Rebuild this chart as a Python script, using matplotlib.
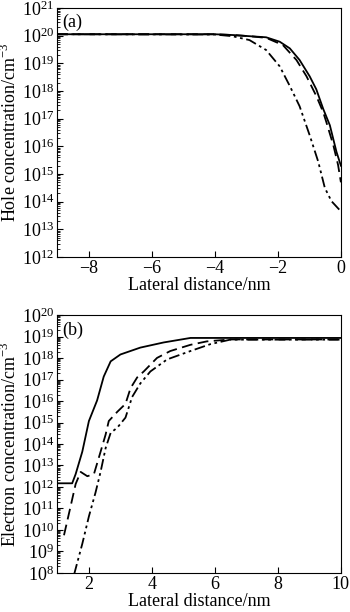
import numpy as np
import matplotlib
matplotlib.use("Agg")
import matplotlib.pyplot as plt
from matplotlib.ticker import LogLocator, NullFormatter

plt.rcParams['font.family'] = ['Liberation Serif', 'DejaVu Serif']
plt.rcParams['mathtext.fontset'] = 'custom'
plt.rcParams['mathtext.rm'] = 'Liberation Serif'

# (a) hole concentration, log10 values
xa_solid = [-9, -4, -3.4, -2.9, -2.37, -1.94, -1.62, -1.31, -0.99, -0.78, -0.56, -0.35, -0.14, 0.0]
ya_solid = [20.05, 20.05, 20.02, 19.98, 19.94, 19.78, 19.54, 19.12, 18.53, 18.06, 17.35, 16.76, 15.8, 15.3]
xa_dash = [-9, -4, -3.4, -2.9, -2.37, -1.84, -1.41, -1.09, -0.78, -0.56, -0.46, -0.24, -0.09, 0.0]
ya_dash = [20.05, 20.05, 20.02, 19.98, 19.92, 19.66, 19.12, 18.53, 17.82, 17.23, 16.87, 16.04, 15.33, 14.7]
xa_dd = [-9, -4, -3.44, -2.9, -2.37, -1.94, -1.62, -1.31, -0.99, -0.72, -0.51, -0.30, 0.0]
ya_dd = [20.05, 20.04, 19.98, 19.84, 19.48, 18.89, 18.18, 17.45, 16.4, 15.45, 14.5, 14.02, 13.65]

# (b) electron concentration, log10 values
xb_solid = [1.0, 1.48, 1.59, 1.80, 2.01, 2.27, 2.48, 2.70, 3.01, 3.64, 4.38, 5.23, 10.0]
yb_solid = [12.17, 12.17, 12.6, 13.64, 15.07, 16.03, 17.14, 17.85, 18.17, 18.49, 18.73, 18.94, 18.94]
xb_dash = [1.22, 1.43, 1.59, 1.75, 1.96, 2.17, 2.38, 2.54, 2.64, 2.91, 3.17, 3.33, 3.54, 3.75, 4.17, 4.59, 5.23, 5.75, 6.49, 10.0]
yb_dash = [9.75, 11.1, 12.14, 12.7, 12.5, 12.6, 13.64, 14.44, 15.07, 15.5, 15.87, 16.6, 17.1, 17.38, 18.01, 18.33, 18.62, 18.78, 18.87, 18.87]
xb_dd = [1.54, 1.80, 2.01, 2.22, 2.38, 2.54, 2.70, 2.91, 3.17, 3.38, 3.64, 3.96, 4.49, 5.23, 5.86, 6.49, 10.0]
yb_dd = [7.92, 9.35, 10.63, 11.74, 12.7, 13.81, 14.52, 14.76, 15.23, 16.19, 16.82, 17.38, 17.94, 18.33, 18.65, 18.86, 18.86]

fig = plt.figure(figsize=(3.5, 6.12), dpi=100)
ax1 = fig.add_axes([0.163, 0.580, 0.811, 0.407])
ax2 = fig.add_axes([0.163, 0.064, 0.811, 0.421])

lw = 1.3
dd = (0, (6, 2, 1.5, 2, 1.5, 2))
ax1.plot(xa_solid, 10 ** np.array(ya_solid), 'k-', lw=lw)
ax1.plot(xa_dash, 10 ** np.array(ya_dash), 'k', ls=(0, (6, 3)), lw=lw)
ax1.plot(xa_dd, 10 ** np.array(ya_dd), 'k', ls=dd, lw=lw)
ax2.plot(xb_solid, 10 ** np.array(yb_solid), 'k-', lw=lw)
ax2.plot(xb_dash, 10 ** np.array(yb_dash), 'k', ls=(0, (6, 3)), lw=lw)
ax2.plot(xb_dd, 10 ** np.array(yb_dd), 'k', ls=dd, lw=lw)

ax1.set_xlim(-9, 0)
ax1.set_ylim(1e12, 1e21)
ax2.set_xlim(1, 10)
ax2.set_ylim(1e8, 1e20)

for ax, lo, hi in [(ax1, 12, 21), (ax2, 8, 20)]:
    ax.set_yscale('log')
    ax.set_yticks([10.0 ** k for k in range(lo, hi + 1)])
    ax.set_yticklabels([r'$\mathregular{10^{%d}}$' % k for k in range(lo, hi + 1)])
    ax.yaxis.set_minor_locator(LogLocator(base=10, subs=np.arange(2, 10), numticks=30))
    ax.yaxis.set_minor_formatter(NullFormatter())
    ax.tick_params(axis='both', which='major', direction='in', length=4, width=0.8,
                   labelsize=13, top=False, right=False, pad=2)
    ax.tick_params(axis='y', which='minor', direction='in', length=2, width=0.6, right=False)
    ax.set_xlabel('Lateral distance/nm', fontsize=13, labelpad=0)
    for s in ax.spines.values():
        s.set_linewidth(0.8)

ax1.set_xticks([-8, -6, -4, -2, 0])
ax1.set_xticklabels(['\u22128', '\u22126', '\u22124', '\u22122', '0'])
ax2.set_xticks([2, 4, 6, 8, 10])

ax1.set_ylabel(r'Hole concentration/cm$^{-3}$', fontsize=13, labelpad=1)
ax2.set_ylabel(r'Electron concentration/cm$^{-3}$', fontsize=13, labelpad=1)

ax1.text(0.02, 0.975, '(a)', transform=ax1.transAxes, fontsize=13, va='top', ha='left')
ax2.text(0.02, 0.975, '(b)', transform=ax2.transAxes, fontsize=13, va='top', ha='left')

fig.savefig('out.png', dpi=100)
